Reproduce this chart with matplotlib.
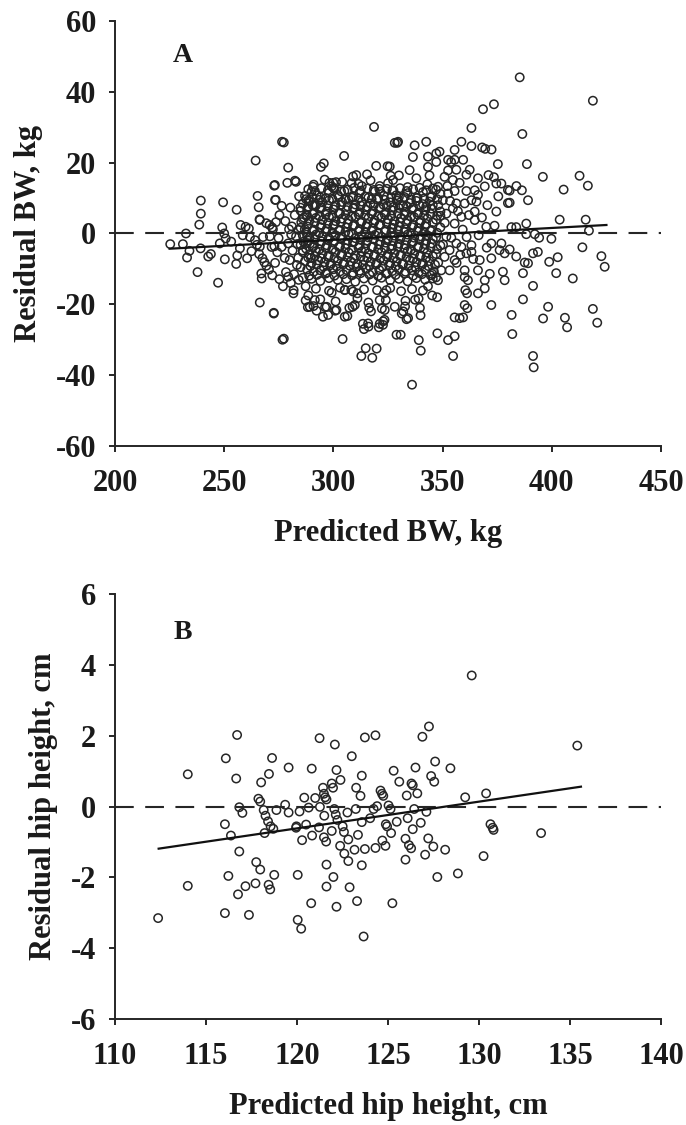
import matplotlib
matplotlib.use("Agg")
import matplotlib.pyplot as plt

plt.rcParams["font.family"] = ["Liberation Serif", "DejaVu Serif"]
plt.rcParams["font.weight"] = "bold"
plt.rcParams["axes.unicode_minus"] = False

# --------------------------------------------------------------
# Panel A: predicted BW (kg) vs residual BW (kg)
# --------------------------------------------------------------
bw_tail_left = [
    (276.5, 25.9), (264.4, 20.6), (273.2, 13.7), (273.6, 9.5), (265.3, 10.6), (239.3, 9.3), (239.3, 5.6), (238.6, 2.5),
    (249.5, 8.8), (255.7, 6.7), (265.8, 7.4), (266.2, 4.0), (257.5, 2.4), (249.1, 1.7), (232.5, 0.0), (225.3, -3.0),
    (231.1, -3.0), (234.1, -4.9), (233.0, -6.8), (237.8, -10.9), (239.2, -4.2), (242.7, -6.5), (243.9, -5.8), (247.2, -13.9),
    (248.0, -2.8), (250.0, 0.0), (250.7, -1.4), (250.3, -7.3), (255.5, -8.6), (256.0, -6.2), (257.2, -4.2), (253.2, -2.3),
    (259.8, 1.9), (261.3, 1.4), (266.3, -19.5), (272.7, -22.4), (276.7, -30.0), (265.0, -3.2), (266.0, -5.8), (267.5, -7.0),
    (268.4, -8.1), (266.3, -3.7), (267.0, -11.3), (267.2, -12.7), (269.3, -9.1), (270.5, -10.2), (272.0, -11.8), (273.0, -3.6),
    (273.3, -8.3), (269.3, 2.9), (270.8, 2.4), (272.0, 1.7), (266.3, 3.8), (267.8, -1.0), (261.8, -1.0), (264.1, -1.9),
    (262.5, -5.0), (260.5, -7.0), (258.5, -0.5),
]

bw_band_270 = [
    (272.9, 13.5), (273.3, 9.5), (272.7, -22.6), (277.3, 25.7), (277.3, -29.7), (279.3, 18.6), (278.9, 14.3), (282.9, 14.6),
    (275.3, 5.2), (276.3, 7.8), (274.3, -5.3), (275.3, -12.9), (276.9, -14.9), (278.3, -10.9), (279.7, 1.2), (280.3, 7.3),
    (281.3, -4.8), (281.7, -16.9), (283.3, -8.9), (284.3, 10.5), (285.3, 3.2), (286.3, -2.3), (287.3, -18.9), (288.3, -20.8),
    (288.9, -11.9), (270.9, -0.8), (271.7, -3.8), (272.3, 1.2), (273.7, 3.2), (274.9, -1.3), (276.3, -3.8), (277.7, -6.9),
    (279.3, -2.8), (280.7, -0.3), (282.3, 5.2), (282.9, -0.8), (283.9, -6.9), (284.9, 7.3), (285.9, -4.8), (286.9, 1.2),
    (287.9, 5.2), (289.3, -2.8), (289.7, -6.9), (288.5, 9.3), (287.3, -14.9), (278.0, 3.5), (281.0, 2.0), (283.5, -3.0),
    (285.0, -9.5), (286.5, 4.5), (288.0, -1.0), (284.0, 1.0), (280.0, -7.5), (282.0, -11.5), (286.0, -12.5),
]

bw_halo = [
    (294.3, 18.8), (295.6, 19.8), (304.9, 21.9), (304.2, -29.8), (295.2, -23.5), (297.6, -23.0), (296.2, -20.8), (290.9, -20.5),
    (292.3, -21.8), (300.8, -21.8), (299.2, -16.7), (305.2, -23.5), (306.4, -23.3), (307.3, -21.0), (308.8, -20.7), (308.2, -15.9),
    (305.2, -15.9), (298.2, 14.3), (299.2, 13.3), (301.2, 14.5), (292.3, 10.8), (290.5, 8.0), (318.6, 30.1), (317.8, -35.1),
    (319.8, -32.5), (321.2, -25.5), (320.8, -26.5), (317.2, -22.0), (322.2, -21.2), (323.5, -21.6), (319.6, 19.1), (322.8, -24.8),
    (323.2, -16.9), (324.8, 19.0), (326.2, 16.3), (328.1, 25.6), (329.2, 25.6), (328.8, 10.8), (313.5, -25.5), (314.0, -27.0),
    (311.5, 14.0), (315.4, 16.7), (325.8, 18.9), (310.5, 16.5), (290.7, 13.2), (299.9, 14.3), (308.3, 14.2), (321.2, 13.4),
    (327.3, 15.1), (314.8, -32.4), (312.8, -34.6), (289.2, -20.7), (288.5, -17.5), (291.5, -18.8), (301.4, -21.6), (309.8, -20.2),
    (315.9, -25.4), (316.1, -26.3), (322.7, -25.8), (323.4, -24.4), (328.1, -20.7), (328.9, -28.6), (316.4, -21.0), (311.0, -16.9),
    (324.3, -16.0), (321.2, -18.8), (305.2, -16.0), (296.9, -20.7), (281.8, -16.0), (280.5, -14.0), (279.3, -12.2), (284.1, -13.1),
    (282.4, 14.9),
]

bw_core = [
    (291, 13.8), (296, 15.2), (300, 12.9), (304, 14.6), (309, 16.1), (313, 13.4), (317, 15.0), (321, 12.6), (325, 14.2),
    (330, 16.4), (334, 13.1), (338, 15.6), (343, 13.9), (347, 12.4),
    (287, 10.6), (290, 11.8), (294, 10.2), (298, 11.5), (302, 10.9), (305, 12.0), (309, 10.4), (312, 11.6), (316, 10.1),
    (319, 11.9), (323, 10.7), (327, 12.1), (330, 10.3), (334, 11.4), (338, 10.0), (341, 11.7), (345, 10.5), (349, 11.2),
    (286, 8.4), (289, 9.1), (292, 7.9), (295, 8.8), (298, 9.4), (301, 8.0), (304, 8.9), (307, 9.5), (310, 8.2), (313, 9.0),
    (317, 8.5), (320, 9.6), (323, 8.1), (326, 8.8), (329, 9.3), (332, 7.8), (335, 8.6), (338, 9.2), (341, 8.3), (344, 9.0),
    (348, 8.0),
    (285, 6.4), (288, 6.9), (291, 5.9), (294, 7.0), (297, 6.2), (300, 6.8), (303, 5.8), (306, 6.6), (309, 7.1), (312, 6.0),
    (315, 6.7), (318, 6.3), (321, 7.0), (324, 5.9), (327, 6.5), (330, 7.2), (333, 6.1), (336, 6.8), (339, 5.9), (342, 6.6),
    (345, 7.0), (349, 6.2),
    (286, 4.1), (289, 3.6), (292, 4.4), (295, 3.8), (298, 4.6), (301, 3.5), (304, 4.2), (307, 3.9), (310, 4.7), (313, 3.4),
    (316, 4.3), (319, 3.7), (322, 4.5), (325, 4.0), (328, 3.5), (331, 4.4), (334, 3.8), (337, 4.6), (340, 3.6), (343, 4.2),
    (347, 3.9),
    (285, 1.6), (288, 2.0), (291, 1.1), (294, 1.8), (297, 1.3), (300, 2.2), (303, 1.0), (306, 1.7), (309, 2.1), (312, 1.2),
    (315, 1.9), (318, 1.4), (321, 2.3), (324, 1.0), (327, 1.6), (330, 2.0), (333, 1.2), (336, 1.8), (339, 1.5), (342, 2.1),
    (345, 1.0), (349, 1.7),
    (286, -0.6), (289, -1.2), (292, -0.3), (295, -0.9), (298, -1.4), (301, -0.5), (304, -1.0), (307, -0.2), (310, -1.3),
    (313, -0.7), (316, -1.1), (319, -0.4), (322, -0.9), (325, -1.5), (328, -0.6), (331, -1.0), (334, -0.3), (337, -1.2),
    (340, -0.8), (343, -0.5), (347, -1.1),
    (285, -3.2), (288, -2.7), (291, -3.5), (294, -2.9), (297, -3.3), (300, -2.6), (303, -3.6), (306, -3.0), (309, -2.5),
    (312, -3.4), (315, -2.8), (318, -3.7), (321, -3.1), (324, -2.6), (327, -3.5), (330, -2.9), (333, -3.3), (336, -2.7),
    (339, -3.6), (342, -3.0), (345, -2.8), (349, -3.4),
    (286, -5.3), (289, -5.9), (292, -5.0), (295, -5.7), (298, -6.1), (301, -5.2), (304, -5.8), (307, -5.4), (310, -6.2),
    (313, -5.1), (316, -5.6), (319, -6.0), (322, -5.3), (325, -5.9), (328, -5.5), (331, -6.1), (334, -5.0), (337, -5.7),
    (340, -6.2), (343, -5.4), (347, -5.8),
    (287, -7.8), (290, -8.3), (293, -7.6), (296, -8.1), (299, -8.5), (302, -7.7), (305, -8.2), (308, -7.9), (311, -8.6),
    (314, -7.5), (317, -8.0), (320, -8.4), (323, -7.7), (326, -8.3), (329, -7.9), (332, -8.6), (335, -7.6), (338, -8.1),
    (341, -8.4), (344, -7.8), (348, -8.2),
    (288, -10.2), (291, -10.8), (294, -10.4), (297, -11.0), (300, -10.1), (303, -10.7), (306, -10.3), (309, -11.1),
    (312, -10.5), (315, -10.0), (318, -10.9), (321, -10.3), (324, -11.2), (327, -10.6), (330, -10.1), (333, -10.8),
    (336, -10.4), (339, -11.0), (342, -10.2), (346, -10.7),
    (290, -12.8), (294, -13.4), (298, -12.6), (302, -13.1), (306, -12.9), (310, -13.6), (314, -12.7), (318, -13.3),
    (322, -12.5), (326, -13.2), (330, -12.8), (334, -13.5), (338, -12.6), (342, -13.0), (347, -12.4),
    (292, -15.6), (298, -16.2), (303, -15.3), (309, -16.4), (314, -15.8), (320, -16.0), (326, -15.4), (331, -16.3),
    (336, -15.7), (341, -16.1),
    (294, -18.6), (301, -19.2), (311, -18.3), (316, -19.5), (324, -18.8), (333, -19.0), (339, -18.4),
]

# second, interleaved layer of the dense centre of the cloud
bw_core_fill = [
    (288.5, 12.5), (291.5, 12.0), (294.5, 12.8), (297.5, 12.2), (300.5, 12.6), (303.5, 11.9), (306.5, 12.4), (309.5, 12.9),
    (312.5, 12.1), (315.5, 12.7), (318.5, 12.3), (321.5, 11.8), (324.5, 12.6), (327.5, 12.2), (330.5, 12.8), (333.5, 12.0),
    (336.5, 12.5), (339.5, 12.9), (342.5, 12.2), (345.5, 12.7),
    (287.5, 9.7), (290.5, 10.2), (293.5, 9.5), (296.5, 10.0), (299.5, 9.8), (302.5, 10.3), (305.5, 9.6), (308.5, 10.1),
    (311.5, 9.9), (314.5, 10.4), (317.5, 9.7), (320.5, 10.0), (323.5, 9.5), (326.5, 10.2), (329.5, 9.8), (332.5, 10.3),
    (335.5, 9.6), (338.5, 10.1), (341.5, 9.9), (344.5, 10.2), (347.5, 9.7),
    (288.5, 7.6), (291.5, 8.0), (294.5, 7.4), (297.5, 7.9), (300.5, 7.5), (303.5, 8.1), (306.5, 7.7), (309.5, 7.3),
    (312.5, 7.9), (315.5, 7.6), (318.5, 8.0), (321.5, 7.4), (324.5, 7.8), (327.5, 7.5), (330.5, 8.1), (333.5, 7.7),
    (336.5, 7.3), (339.5, 7.9), (342.5, 7.6), (345.5, 8.0),
    (287.5, 5.1), (290.5, 5.5), (293.5, 4.9), (296.5, 5.3), (299.5, 5.0), (302.5, 5.6), (305.5, 5.2), (308.5, 4.8),
    (311.5, 5.4), (314.5, 5.1), (317.5, 5.5), (320.5, 4.9), (323.5, 5.3), (326.5, 5.0), (329.5, 5.6), (332.5, 5.2),
    (335.5, 4.8), (338.5, 5.4), (341.5, 5.1), (344.5, 5.5), (347.5, 5.0),
    (288.5, 2.7), (291.5, 3.1), (294.5, 2.5), (297.5, 2.9), (300.5, 2.6), (303.5, 3.2), (306.5, 2.8), (309.5, 2.4),
    (312.5, 3.0), (315.5, 2.7), (318.5, 3.1), (321.5, 2.5), (324.5, 2.9), (327.5, 2.6), (330.5, 3.2), (333.5, 2.8),
    (336.5, 2.4), (339.5, 3.0), (342.5, 2.7), (345.5, 3.1),
    (287.5, 0.3), (290.5, 0.7), (293.5, 0.1), (296.5, 0.5), (299.5, 0.2), (302.5, 0.8), (305.5, 0.4), (308.5, 0.0),
    (311.5, 0.6), (314.5, 0.3), (317.5, 0.7), (320.5, 0.1), (323.5, 0.5), (326.5, 0.2), (329.5, 0.8), (332.5, 0.4),
    (335.5, 0.0), (338.5, 0.6), (341.5, 0.3), (344.5, 0.7), (347.5, 0.2),
    (288.5, -2.0), (291.5, -1.6), (294.5, -2.2), (297.5, -1.8), (300.5, -2.1), (303.5, -1.5), (306.5, -1.9), (309.5, -2.3),
    (312.5, -1.7), (315.5, -2.0), (318.5, -1.6), (321.5, -2.2), (324.5, -1.8), (327.5, -2.1), (330.5, -1.5), (333.5, -1.9),
    (336.5, -2.3), (339.5, -1.7), (342.5, -2.0), (345.5, -1.6),
    (287.5, -4.3), (290.5, -3.9), (293.5, -4.5), (296.5, -4.1), (299.5, -4.4), (302.5, -3.8), (305.5, -4.2), (308.5, -4.6),
    (311.5, -4.0), (314.5, -4.3), (317.5, -3.9), (320.5, -4.5), (323.5, -4.1), (326.5, -4.4), (329.5, -3.8), (332.5, -4.2),
    (335.5, -4.6), (338.5, -4.0), (341.5, -4.3), (344.5, -3.9), (347.5, -4.4),
    (288.5, -6.8), (291.5, -6.4), (294.5, -7.0), (297.5, -6.6), (300.5, -6.9), (303.5, -6.3), (306.5, -6.7), (309.5, -7.1),
    (312.5, -6.5), (315.5, -6.8), (318.5, -6.4), (321.5, -7.0), (324.5, -6.6), (327.5, -6.9), (330.5, -6.3), (333.5, -6.7),
    (336.5, -7.1), (339.5, -6.5), (342.5, -6.8), (345.5, -6.4),
    (289.5, -9.2), (292.5, -8.8), (295.5, -9.4), (298.5, -9.0), (301.5, -9.3), (304.5, -8.7), (307.5, -9.1), (310.5, -9.5),
    (313.5, -8.9), (316.5, -9.2), (319.5, -8.8), (322.5, -9.4), (325.5, -9.0), (328.5, -9.3), (331.5, -8.7), (334.5, -9.1),
    (337.5, -9.5), (340.5, -8.9), (343.5, -9.2), (346.5, -8.8),
    (292.5, -11.7), (296.5, -11.3), (300.5, -11.9), (304.5, -11.5), (308.5, -11.8), (312.5, -11.2), (316.5, -11.6),
    (320.5, -12.0), (324.5, -11.4), (328.5, -11.7), (332.5, -11.3), (336.5, -11.9), (340.5, -11.5), (344.5, -11.8),
]

bw_mid_right = [
    (368.5, 35.1), (373.5, 36.5), (363.2, 29.8), (358.6, 25.9), (363.2, 24.7), (368.1, 24.3), (372.4, 23.7), (369.5, 23.9),
    (355.5, 23.6), (375.3, 19.6), (373.5, 15.9), (374.6, 14.1), (376.9, 14.1), (379.9, 12.3), (379.9, 8.6), (374.6, 6.2),
    (373.8, 2.2), (370.0, 1.9), (376.9, -2.8), (378.4, -5.6), (376.1, -4.7), (372.3, -2.8), (372.3, -7.0), (377.6, -10.8),
    (378.4, -13.2), (372.3, -20.2), (371.6, -11.4), (369.3, -13.2), (366.2, -16.9), (369.3, -15.5), (366.2, -10.4), (363.2, -3.3),
    (363.2, -5.2), (364.7, 3.8), (365.5, 9.0), (364.7, 6.2), (366.2, 10.9), (369.3, 13.3), (366.2, 15.6), (362.4, 18.0),
    (360.9, 16.6), (359.4, 20.8), (355.5, 20.8), (352.5, 20.8), (356.3, 18.0), (357.8, 14.3), (355.5, 12.0), (360.9, 12.0),
    (360.1, -10.4), (361.6, -13.2), (360.4, -16.0), (360.1, -20.2), (361.3, -21.1), (357.8, -23.9), (359.4, -23.7), (355.5, -23.7),
    (355.5, -29.0), (354.8, -34.6), (352.5, -30.1), (347.6, -28.2), (339.1, -30.1), (340.0, -33.1), (336.0, -42.7), (330.8, -28.6),
    (334.2, -23.9), (332.0, -22.0), (333.5, -24.2), (339.9, -23.1), (345.2, -17.5), (347.5, -18.0), (361.2, -16.9), (360.1, -12.3),
    (353.2, -10.4), (347.9, -13.2), (349.4, -10.4), (345.2, -11.4), (355.5, -7.5), (353.2, -4.7), (350.9, -6.6), (358.6, -3.8),
    (360.9, -5.6), (356.3, -2.8), (351.7, -0.9), (355.5, 2.8), (358.6, 4.7), (351.7, 5.6), (360.1, 8.5), (354.7, 7.1),
    (363.2, 9.4), (364.7, 12.2), (350.1, 9.4), (352.5, 11.3), (347.9, 13.2), (350.9, 16.0), (348.6, 23.1), (347.1, 22.6),
    (343.3, 21.7), (342.5, 25.9), (337.2, 24.9), (329.6, 25.9), (336.4, 21.6), (334.9, 17.9), (343.3, 18.8), (344.0, 16.4),
    (347.1, 20.2), (353.9, 20.2), (352.5, 17.8), (354.7, 15.1), (356.3, 8.5), (332.8, -20.6), (337.4, -18.7), (331.3, -22.6),
    (343.3, -14.9), (345.5, -12.7), (351.0, 3.0), (354.0, -1.2), (357.0, 6.3), (350.2, -3.1), (353.4, 9.2), (356.4, -8.3),
    (359.2, 1.1), (362.0, 5.2), (358.1, -6.0), (352.2, 13.4), (361.0, -1.0), (364.0, -7.2), (349.0, 5.0), (366.5, -0.5),
    (368.0, 4.5), (370.5, 8.0), (367.0, -7.5), (370.2, -4.0), (375.5, 10.5), (371.0, 16.5), (339.6, -21.0),
]

bw_tail_right = [
    (385.3, 44.1), (418.8, 37.5), (386.5, 28.1), (388.6, 19.6), (395.9, 16.0), (412.7, 16.3), (416.5, 13.5), (405.4, 12.4),
    (383.8, 13.4), (386.3, 12.2), (380.7, 12.1), (380.7, 8.7), (389.1, 9.4), (403.6, 3.9), (415.5, 3.9), (388.3, 2.8),
    (383.7, 1.8), (381.5, 1.8), (388.3, -0.2), (392.2, -0.2), (394.2, -1.2), (399.8, -1.5), (417.0, 0.8), (380.7, -4.5),
    (383.7, -6.5), (391.4, -5.6), (393.6, -5.2), (387.6, -8.2), (389.1, -8.4), (398.8, -8.0), (402.7, -6.7), (414.0, -3.9),
    (422.7, -6.4), (424.2, -9.4), (386.8, -11.2), (402.0, -11.2), (409.6, -12.7), (391.4, -14.8), (386.8, -18.6), (398.3, -20.7),
    (396.0, -24.0), (406.0, -23.8), (407.0, -26.5), (418.8, -21.3), (420.8, -25.2), (381.6, -23.0), (381.9, -28.4), (391.4, -34.6),
    (391.7, -37.8),
]

bw_fit_x = [225.0, 425.0]
bw_fit_y = [-4.3, 2.4]

# --------------------------------------------------------------
# Panel B: predicted hip height (cm) vs residual hip height (cm)
# --------------------------------------------------------------
hip_points = [
    (112.37, -3.15), (114.0, 0.91), (114.0, -2.24), (116.09, 1.36), (116.04, -0.50), (116.04, -3.01), (116.71, 2.02),
    (116.66, 0.79), (116.83, -0.02), (117.0, -0.18), (116.37, -0.82), (116.83, -1.27), (116.23, -1.96), (116.76, -2.48),
    (117.17, -2.25), (117.36, -3.06), (117.72, -2.17), (117.76, -1.57), (117.98, -1.78), (118.03, 0.68), (118.46, 0.92),
    (117.88, 0.22), (117.98, 0.14), (118.17, -0.10), (118.27, -0.26), (118.41, -0.42), (118.55, -0.56), (118.70, -0.63),
    (118.22, -0.75), (118.44, -2.21), (118.53, -2.34), (118.75, -1.93), (118.63, 1.37), (118.87, -0.10), (119.35, 0.05),
    (119.54, 1.10), (119.54, -0.17), (119.97, -0.56), (119.95, -0.60), (120.04, -1.93), (120.04, -3.20), (120.23, -3.45),
    (120.14, -0.14), (120.28, -0.95), (120.40, 0.25), (120.50, -0.51), (120.64, -0.03), (120.81, 1.07), (120.83, -0.82),
    (120.78, -2.73), (121.0, 0.24), (121.21, -0.59), (121.26, -0.01), (121.24, 1.93), (121.43, 0.53), (121.48, 0.36),
    (121.55, 0.26), (121.62, 0.20), (121.50, -0.26), (121.48, -0.87), (121.60, -0.99), (121.62, -1.64), (121.62, -2.26),
    (121.91, 0.65), (121.98, 0.53), (122.05, -0.07), (122.13, -0.23), (122.22, -0.38), (121.91, -0.69), (122.08, 1.75),
    (122.17, 1.03), (122.39, 0.75), (122.37, -1.11), (122.0, -1.99), (122.17, -2.83), (122.51, -0.56), (122.58, -0.72),
    (122.60, -1.33), (122.77, -0.17), (122.82, -0.93), (122.82, -1.54), (122.89, -2.28), (123.01, 1.42), (123.16, -1.22),
    (123.23, -0.07), (123.25, 0.53), (123.30, -2.67), (123.35, -0.80), (123.49, 0.30), (123.56, 0.87), (123.56, -0.44),
    (123.56, -1.66), (123.66, -3.67), (123.73, 1.95), (123.73, -1.20), (124.02, -0.33), (124.21, -0.07), (124.31, 2.01),
    (124.31, -1.17), (124.40, 0.01), (124.59, 0.45), (124.67, 0.36), (124.74, 0.30), (124.69, -0.96), (124.86, -1.11),
    (124.88, -0.50), (124.95, -0.56), (125.03, 0.03), (125.14, -0.07), (125.17, -0.75), (125.24, -2.73), (125.31, 1.01),
    (125.48, -0.43), (125.62, 0.70), (125.96, -1.50), (125.96, -0.91), (126.03, 0.31), (126.08, -0.33), (126.15, -1.09),
    (126.27, -1.18), (126.29, 0.65), (126.36, 0.60), (126.36, -0.64), (126.44, -0.07), (126.51, 1.10), (126.61, 0.37),
    (126.80, -0.46), (126.89, 1.97), (127.04, -1.36), (127.11, -0.15), (127.21, -0.90), (127.25, 2.26), (127.37, 0.86),
    (127.49, -1.13), (127.54, 0.70), (127.59, 1.27), (127.71, -1.99), (128.14, -1.22), (128.43, 1.08), (128.84, -1.89),
    (129.24, 0.26), (129.60, 3.70), (130.25, -1.40), (130.39, 0.37), (130.63, -0.50), (130.75, -0.60), (130.80, -0.66),
    (133.41, -0.75), (135.40, 1.72),
]

hip_fit_x = [112.4, 135.6]
hip_fit_y = [-1.19, 0.56]

bw_xticks = [200, 250, 300, 350, 400, 450]
bw_yticks = [-60, -40, -20, 0, 20, 40, 60]
hip_xticks = [110, 115, 120, 125, 130, 135, 140]
hip_yticks = [-6, -4, -2, 0, 2, 4, 6]

# --------------------------------------------------------------
# Plot
# --------------------------------------------------------------
fig = plt.figure(figsize=(6.86, 11.25), dpi=100)
ax_a = fig.add_axes([0.1676, 0.6036, 0.7960, 0.3777])
ax_b = fig.add_axes([0.1676, 0.0942, 0.7960, 0.3778])

INK = "#262626"


def draw_panel(ax, points, fit_x, fit_y, xticks, yticks, xlabel, ylabel, tag, tag_xy):
    xs = [p[0] for p in points]
    ys = [p[1] for p in points]
    ax.scatter(xs, ys, s=36, facecolors="none", edgecolors=INK, linewidths=1.1, zorder=3)
    ax.axhline(0, color=INK, lw=1.5, dashes=(9, 5.5), zorder=2)
    ax.plot(fit_x, fit_y, color="#111111", lw=1.6, zorder=4)

    ax.set_xlim(xticks[0], xticks[-1])
    ax.set_ylim(yticks[0], yticks[-1])
    ax.set_xticks(xticks)
    ax.set_yticks(yticks)
    ax.tick_params(direction="out", length=4.5, width=1.4, color=INK,
                   labelsize=22, pad=12, labelcolor="#1a1a1a")
    ax.tick_params(axis="y", pad=9)
    for side in ["top", "right"]:
        ax.spines[side].set_visible(False)
    for side in ["left", "bottom"]:
        ax.spines[side].set_linewidth(1.4)
        ax.spines[side].set_color(INK)
    for lab in ax.get_xticklabels() + ax.get_yticklabels():
        lab.set_fontweight("bold")

    ax.set_xlabel(xlabel, fontsize=22, fontweight="bold", labelpad=15, color="#1a1a1a")
    ax.set_ylabel(ylabel, fontsize=22, fontweight="bold", labelpad=9.5, color="#1a1a1a")
    ax.text(tag_xy[0], tag_xy[1], tag, fontsize=20, fontweight="bold",
            ha="center", va="center", color="#1a1a1a")


bw_points = (bw_tail_left + bw_band_270 + bw_halo + bw_core + bw_core_fill
             + bw_mid_right + bw_tail_right)
draw_panel(ax_a, bw_points, bw_fit_x, bw_fit_y, bw_xticks, bw_yticks,
           "Predicted BW, kg", "Residual BW, kg", "A", (231, 50.4))
draw_panel(ax_b, hip_points, hip_fit_x, hip_fit_y, hip_xticks, hip_yticks,
           "Predicted hip height, cm", "Residual hip height, cm", "B", (113.7, 4.9))

fig.savefig("out.png", dpi=100)
